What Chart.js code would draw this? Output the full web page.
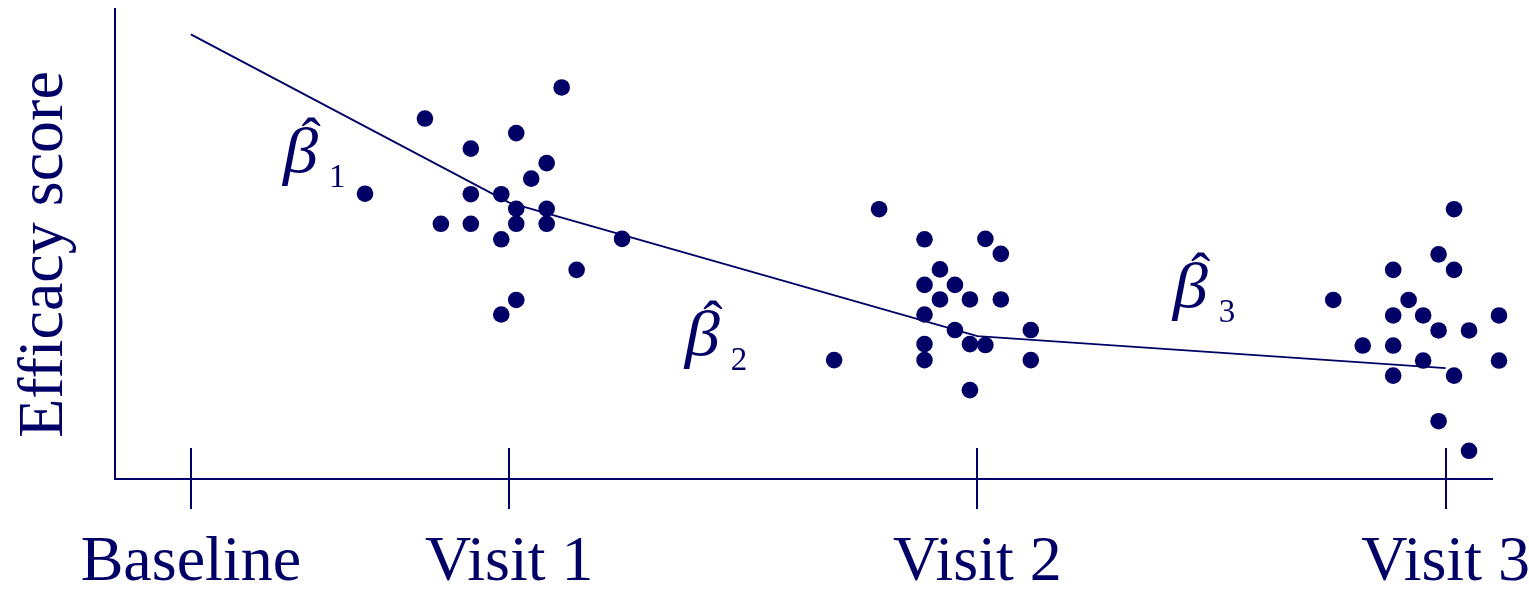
<!DOCTYPE html>
<html>
<head>
<meta charset="utf-8">
<script src="https://cdn.jsdelivr.net/npm/chart.js@4.4.1/dist/chart.umd.min.js"></script>
<style>
  html, body { margin: 0; padding: 0; background: #ffffff; }
  canvas { display: block; }
</style>
</head>
<body>
<canvas id="chart" width="1529" height="589"></canvas>
<script>
// Visit schedule (study day of each visit) and axis labels
const visitLabels = ['Baseline', 'Visit 1', 'Visit 2', 'Visit 3'];
const visitDays = [0, 68, 168, 268];

// Piecewise-linear fitted mean score at each visit
const fittedScore = [94.6, 58.8, 30.4, 23.6];

// Individual observations (study day, efficacy score) at each follow-up visit
const visit1Day = [79.2, 50.0, 69.5, 59.8, 76.0, 72.7, 37.2, 59.8, 66.3, 69.5,
                   76.0, 53.4, 59.8, 69.5, 76.0, 66.3, 92.1, 82.4, 69.5, 66.3];
const visit1Score = [83.3, 76.7, 73.6, 70.3, 67.2, 63.9, 60.7, 60.6, 60.6, 57.5,
                     57.5, 54.3, 54.3, 54.3, 54.3, 51.0, 51.1, 44.5, 38.1, 35.0];

const visit2Day = [147.0, 156.7, 169.7, 173.0, 160.0, 156.7, 163.2, 160.0, 166.4, 173.0,
                   156.7, 163.2, 179.4, 156.7, 166.4, 169.7, 137.4, 156.7, 179.4, 166.4];
const visit2Score = [57.4, 51.0, 51.1, 47.9, 44.6, 41.3, 41.3, 38.2, 38.2, 38.2,
                     35.0, 31.7, 31.7, 28.7, 28.7, 28.5, 25.3, 25.3, 25.3, 18.9];

const visit3Day = [269.8, 266.5, 282.7, 256.8, 269.8, 244.0, 260.1, 256.8, 263.2, 279.4,
                   266.5, 273.0, 250.3, 256.8, 263.2, 279.4, 256.8, 269.8, 266.5, 273.0];
const visit3Score = [57.4, 47.8, 47.8, 44.5, 44.5, 38.1, 38.1, 34.8, 34.8, 34.8,
                     31.6, 31.6, 28.4, 28.4, 25.2, 25.2, 22.0, 22.0, 12.3, 6.0];

// Slope coefficient labels for the three segments
const coefNames = ['1', '2', '3'];

const ink = '#000066';
const serif = '"Liberation Serif", "Times New Roman", Times, serif';

function toPoints(xs, ys) {
  return xs.map((x, i) => ({ x: x, y: ys[i] }));
}

const observed = [].concat(
  toPoints(visit1Day, visit1Score),
  toPoints(visit2Day, visit2Score),
  toPoints(visit3Day, visit3Score)
);
const fitted = toPoints(visitDays, fittedScore);

// Anchor of each coefficient label in data units (left edge, baseline)
const coefAnchors = [
  { day: 19.7, score: 65.3 },
  { day: 105.5, score: 26.4 },
  { day: 209.7, score: 36.6 }
];

const decorations = {
  id: 'decorations',
  afterDatasetsDraw(chart) {
    const ctx = chart.ctx;
    const xs = chart.scales.x;
    const ys = chart.scales.y;
    const area = chart.chartArea;
    ctx.save();
    ctx.fillStyle = ink;
    ctx.strokeStyle = ink;

    // tick marks crossing the time axis (upper half)
    ctx.lineWidth = 2;
    visitDays.forEach(d => {
      const px = Math.round(xs.getPixelForValue(d));
      ctx.beginPath();
      ctx.moveTo(px, area.bottom);
      ctx.lineTo(px, area.bottom - 31);
      ctx.stroke();
    });

    // segment slope labels: beta-hat with subscript
    coefAnchors.forEach((a, i) => {
      const px = xs.getPixelForValue(a.day);
      const py = ys.getPixelForValue(a.score);
      ctx.textBaseline = 'alphabetic';
      ctx.textAlign = 'left';
      ctx.save();
      ctx.translate(px, py);
      ctx.scale(1.1, 1);
      ctx.font = 'italic 64px ' + serif;
      ctx.fillText('β', 0, 0);
      ctx.restore();
      ctx.textAlign = 'center';
      ctx.font = '58px ' + serif;
      ctx.fillText('ˆ', px + 28, py - 15);
      ctx.textAlign = 'left';
      ctx.font = '33px ' + serif;
      ctx.fillText(coefNames[i], px + 46, py + 15);
    });

    // vertical axis title
    ctx.translate(area.left - 53, (area.top + area.bottom) / 2 + 10.5);
    ctx.rotate(-Math.PI / 2);
    ctx.textAlign = 'center';
    ctx.textBaseline = 'alphabetic';
    ctx.font = '64px ' + serif;
    ctx.fillText('Efficacy score', 0, 0);
    ctx.restore();
  }
};

new Chart(document.getElementById('chart'), {
  type: 'scatter',
  data: {
    datasets: [
      {
        label: 'Observed',
        data: observed,
        backgroundColor: ink,
        borderColor: ink,
        pointRadius: 8.3,
        pointBorderWidth: 0,
        pointHoverRadius: 8.3,
        clip: false
      },
      {
        label: 'Fitted',
        data: fitted,
        showLine: true,
        borderColor: ink,
        borderWidth: 1.9,
        pointRadius: 0,
        pointHoverRadius: 0,
        clip: false
      }
    ]
  },
  options: {
    responsive: false,
    animation: false,
    events: [],
    layout: { padding: { top: 9, right: 37.5, bottom: 0, left: 0 } },
    plugins: {
      legend: { display: false },
      tooltip: { enabled: false }
    },
    scales: {
      x: {
        type: 'linear',
        min: -16.2,
        max: 277.8,
        afterBuildTicks(scale) {
          scale.ticks = visitDays.map(v => ({ value: v }));
        },
        afterFit(scale) {
          scale.height = 110;
          scale.paddingLeft = 0;
          scale.paddingRight = 0;
        },
        grid: {
          display: true,
          drawOnChartArea: false,
          drawTicks: true,
          tickLength: 30,
          color: ink,
          lineWidth: 2
        },
        border: { display: true, color: ink, width: 2 },
        ticks: {
          color: ink,
          font: { family: serif, size: 64 },
          padding: 16,
          maxRotation: 0,
          autoSkip: false,
          callback: (value, index) => visitLabels[index]
        }
      },
      y: {
        type: 'linear',
        min: 0,
        max: 100,
        afterFit(scale) {
          scale.width = 115;
        },
        grid: { display: false },
        border: { display: true, color: ink, width: 2 },
        ticks: { display: false }
      }
    }
  },
  plugins: [decorations]
});
</script>
</body>
</html>
